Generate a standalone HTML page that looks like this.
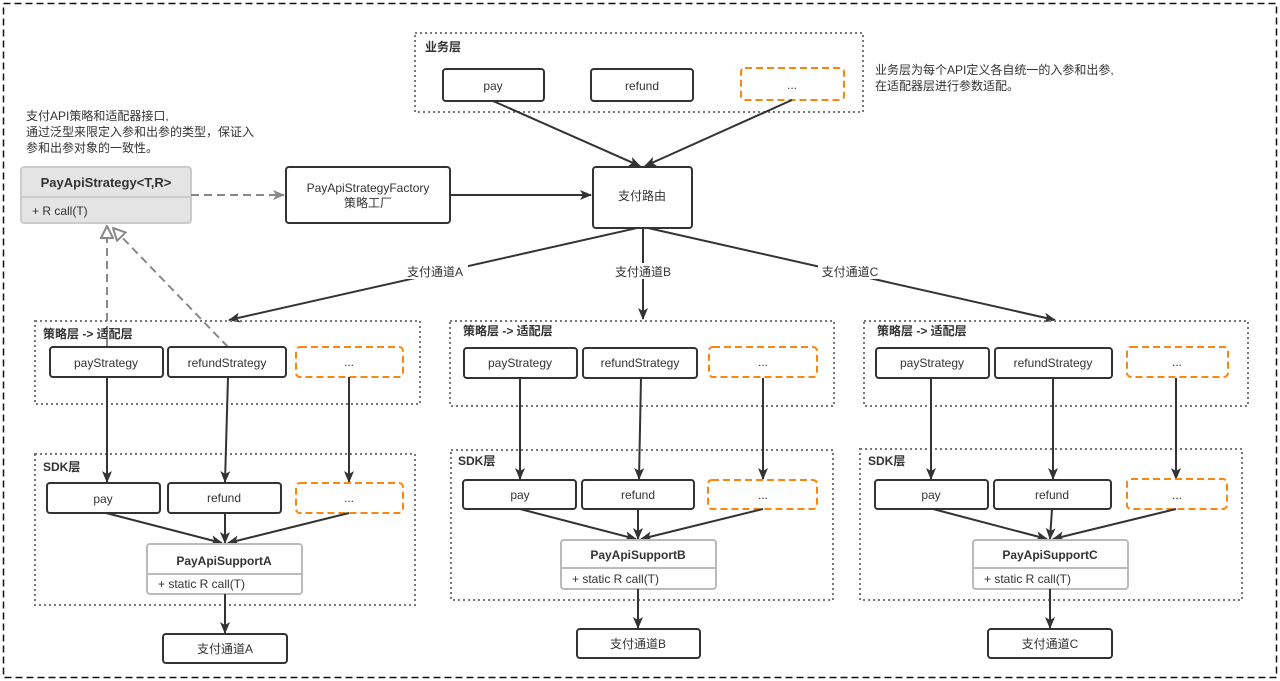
<!DOCTYPE html>
<html><head><meta charset="utf-8"><style>
html,body{margin:0;padding:0;background:#fff;}
svg{display:block;font-family:"Liberation Sans","Noto Sans CJK SC",sans-serif;}
.b{fill:#fff;stroke:#333;stroke-width:2;}
.o{fill:#fff;stroke:#f7870e;stroke-width:2;stroke-dasharray:7,4;}
.g{fill:none;stroke:#777;stroke-width:2;stroke-dasharray:2,3;}
.l{stroke:#333;stroke-width:2;fill:none;}
.t{font-size:12px;fill:#333;text-anchor:middle;}
.h{font-size:12px;fill:#333;font-weight:bold;}
.n{font-size:12px;fill:#333;}
</style></head><body>
<svg width="1280" height="681" viewBox="0 0 1280 681">
<defs>
<marker id="a" markerWidth="12" markerHeight="10" refX="11" refY="5" orient="auto" markerUnits="userSpaceOnUse"><path d="M0,0 L12,5 L0,10 L3,5z" fill="#333"/></marker>
<marker id="ag" markerWidth="12" markerHeight="10" refX="11" refY="5" orient="auto" markerUnits="userSpaceOnUse"><path d="M0,0 L12,5 L0,10 L3,5z" fill="#888"/></marker>
<marker id="tr" markerWidth="14" markerHeight="14" refX="13" refY="7" orient="auto" markerUnits="userSpaceOnUse"><path d="M1,1 L13,7 L1,13z" fill="#fff" stroke="#888" stroke-width="2"/></marker>
</defs>
<rect x="3.5" y="3.5" width="1273" height="674" fill="none" stroke="#111" stroke-width="1.5" stroke-dasharray="7,4"/>

<!-- business layer -->
<rect class="g" x="415" y="33" width="448" height="79"/>
<text class="h" x="425" y="51">业务层</text>
<rect class="b" x="443" y="69" width="101" height="32" rx="3"/><text class="t" x="493" y="90">pay</text>
<rect class="b" x="591" y="69" width="102" height="32" rx="3"/><text class="t" x="642" y="90">refund</text>
<rect class="o" x="741" y="68" width="103" height="32" rx="4"/><text class="t" x="792" y="89">...</text>
<text class="n" x="875" y="74">业务层为每个API定义各自统一的入参和出参,</text>
<text class="n" x="875" y="90">在适配器层进行参数适配。</text>

<text class="n" x="26" y="120">支付API策略和适配器接口,</text>
<text class="n" x="26" y="136">通过泛型来限定入参和出参的类型，保证入</text>
<text class="n" x="26" y="152">参和出参对象的一致性。</text>

<!-- interface -->
<rect x="21" y="167" width="170" height="56" rx="3" fill="#e4e4e4" stroke="#ccc" stroke-width="2"/>
<line x1="21" y1="197" x2="191" y2="197" stroke="#ccc" stroke-width="2"/>
<text class="h" x="106" y="187" text-anchor="middle" style="font-size:13px">PayApiStrategy&lt;T,R&gt;</text>
<text class="n" x="32" y="215">+ R call(T)</text>

<rect class="b" x="286" y="167" width="164" height="56" rx="3"/>
<text class="t" x="368" y="192">PayApiStrategyFactory</text>
<text class="t" x="368" y="207">策略工厂</text>
<rect class="b" x="593" y="167" width="99" height="61" rx="3"/>
<text class="t" x="642" y="200">支付路由</text>

<line x1="191" y1="195" x2="284" y2="195" stroke="#888" stroke-width="2" stroke-dasharray="8,5" marker-end="url(#ag)"/>
<line class="l" x1="450" y1="195" x2="591" y2="195" marker-end="url(#a)"/>
<line class="l" x1="493" y1="101" x2="640" y2="166" marker-end="url(#a)"/>
<line class="l" x1="792" y1="100" x2="645" y2="166" marker-end="url(#a)"/>

<line class="l" x1="637" y1="228" x2="229" y2="320" marker-end="url(#a)"/>
<line class="l" x1="643" y1="228" x2="643" y2="319" marker-end="url(#a)"/>
<line class="l" x1="648" y1="228" x2="1055" y2="320" marker-end="url(#a)"/>
<rect x="403" y="263" width="65" height="16" fill="#fff"/><text class="t" x="435" y="276">支付通道A</text>
<rect x="611" y="263" width="65" height="16" fill="#fff"/><text class="t" x="643" y="276">支付通道B</text>
<rect x="818" y="263" width="65" height="16" fill="#fff"/><text class="t" x="850" y="276">支付通道C</text>

<!-- generalization -->
<line x1="107" y1="347" x2="107" y2="226" stroke="#888" stroke-width="2" stroke-dasharray="8,5" marker-end="url(#tr)"/>
<line x1="228" y1="347" x2="113" y2="228" stroke="#888" stroke-width="2" stroke-dasharray="8,5" marker-end="url(#tr)"/>

<!-- Column A -->
<rect class="g" x="35" y="321" width="385" height="83"/>
<text class="h" x="43" y="338">策略层 -&gt; 适配层</text>
<rect class="b" x="50" y="347" width="113" height="30" rx="3"/><text class="t" x="106" y="367">payStrategy</text>
<rect class="b" x="168" y="347" width="118" height="30" rx="3"/><text class="t" x="227" y="367">refundStrategy</text>
<rect class="o" x="296" y="347" width="107" height="30" rx="4"/><text class="t" x="349" y="366">...</text>
<rect class="g" x="35" y="454" width="380" height="151"/>
<text class="h" x="43" y="471">SDK层</text>
<line class="l" x1="107" y1="377" x2="107" y2="482" marker-end="url(#a)"/>
<line class="l" x1="228" y1="377" x2="225" y2="482" marker-end="url(#a)"/>
<line class="l" x1="349" y1="377" x2="349" y2="482" marker-end="url(#a)"/>
<rect class="b" x="47" y="483" width="113" height="30" rx="3"/><text class="t" x="103" y="503">pay</text>
<rect class="b" x="168" y="483" width="113" height="30" rx="3"/><text class="t" x="224" y="502">refund</text>
<rect class="o" x="296" y="483" width="107" height="30" rx="4"/><text class="t" x="349" y="502">...</text>
<line class="l" x1="106" y1="513" x2="222" y2="543" marker-end="url(#a)"/>
<line class="l" x1="225" y1="513" x2="225" y2="543" marker-end="url(#a)"/>
<line class="l" x1="349" y1="513" x2="228" y2="543" marker-end="url(#a)"/>
<rect x="147" y="544" width="155" height="50" rx="3" fill="#fff" stroke="#bbb" stroke-width="2"/>
<line x1="147" y1="574" x2="302" y2="574" stroke="#bbb" stroke-width="2"/>
<text class="h" x="224" y="565" text-anchor="middle">PayApiSupportA</text>
<text class="n" x="158" y="588">+ static R call(T)</text>
<line class="l" x1="225" y1="594" x2="225" y2="633" marker-end="url(#a)"/>
<rect class="b" x="163" y="634" width="124" height="29" rx="3"/><text class="t" x="225" y="653">支付通道A</text>

<!-- Column B -->
<rect class="g" x="450" y="321" width="384" height="85"/>
<text class="h" x="463" y="335">策略层 -&gt; 适配层</text>
<rect class="b" x="464" y="348" width="113" height="30" rx="3"/><text class="t" x="520" y="367">payStrategy</text>
<rect class="b" x="583" y="348" width="114" height="30" rx="3"/><text class="t" x="640" y="367">refundStrategy</text>
<rect class="o" x="709" y="347" width="108" height="30" rx="4"/><text class="t" x="763" y="366">...</text>
<rect class="g" x="451" y="450" width="382" height="150"/>
<text class="h" x="458" y="465">SDK层</text>
<line class="l" x1="520" y1="378" x2="520" y2="479" marker-end="url(#a)"/>
<line class="l" x1="641" y1="378" x2="639" y2="479" marker-end="url(#a)"/>
<line class="l" x1="763" y1="378" x2="763" y2="479" marker-end="url(#a)"/>
<rect class="b" x="463" y="480" width="113" height="29" rx="3"/><text class="t" x="520" y="499">pay</text>
<rect class="b" x="582" y="480" width="112" height="29" rx="3"/><text class="t" x="638" y="499">refund</text>
<rect class="o" x="708" y="480" width="109" height="29" rx="4"/><text class="t" x="763" y="499">...</text>
<line class="l" x1="520" y1="509" x2="636" y2="539" marker-end="url(#a)"/>
<line class="l" x1="638" y1="509" x2="638" y2="539" marker-end="url(#a)"/>
<line class="l" x1="763" y1="509" x2="641" y2="539" marker-end="url(#a)"/>
<rect x="561" y="540" width="155" height="49" rx="3" fill="#fff" stroke="#bbb" stroke-width="2"/>
<line x1="561" y1="568" x2="716" y2="568" stroke="#bbb" stroke-width="2"/>
<text class="h" x="638" y="559" text-anchor="middle">PayApiSupportB</text>
<text class="n" x="572" y="583">+ static R call(T)</text>
<line class="l" x1="638" y1="589" x2="638" y2="628" marker-end="url(#a)"/>
<rect class="b" x="577" y="629" width="123" height="29" rx="3"/><text class="t" x="638" y="648">支付通道B</text>

<!-- Column C -->
<rect class="g" x="864" y="321" width="384" height="85"/>
<text class="h" x="877" y="335">策略层 -&gt; 适配层</text>
<rect class="b" x="876" y="348" width="113" height="30" rx="3"/><text class="t" x="932" y="367">payStrategy</text>
<rect class="b" x="995" y="348" width="117" height="30" rx="3"/><text class="t" x="1053" y="367">refundStrategy</text>
<rect class="o" x="1127" y="347" width="101" height="30" rx="4"/><text class="t" x="1177" y="366">...</text>
<rect class="g" x="860" y="449" width="382" height="151"/>
<text class="h" x="868" y="465">SDK层</text>
<line class="l" x1="931" y1="378" x2="931" y2="479" marker-end="url(#a)"/>
<line class="l" x1="1053" y1="378" x2="1053" y2="479" marker-end="url(#a)"/>
<line class="l" x1="1176" y1="378" x2="1176" y2="479" marker-end="url(#a)"/>
<rect class="b" x="875" y="480" width="113" height="29" rx="3"/><text class="t" x="931" y="499">pay</text>
<rect class="b" x="994" y="480" width="117" height="29" rx="3"/><text class="t" x="1052" y="499">refund</text>
<rect class="o" x="1127" y="479" width="100" height="30" rx="4"/><text class="t" x="1177" y="499">...</text>
<line class="l" x1="933" y1="509" x2="1047" y2="539" marker-end="url(#a)"/>
<line class="l" x1="1052" y1="509" x2="1050" y2="539" marker-end="url(#a)"/>
<line class="l" x1="1176" y1="509" x2="1053" y2="539" marker-end="url(#a)"/>
<rect x="973" y="540" width="155" height="49" rx="3" fill="#fff" stroke="#bbb" stroke-width="2"/>
<line x1="973" y1="568" x2="1128" y2="568" stroke="#bbb" stroke-width="2"/>
<text class="h" x="1050" y="559" text-anchor="middle">PayApiSupportC</text>
<text class="n" x="984" y="583">+ static R call(T)</text>
<line class="l" x1="1050" y1="589" x2="1050" y2="628" marker-end="url(#a)"/>
<rect class="b" x="988" y="629" width="124" height="29" rx="3"/><text class="t" x="1050" y="648">支付通道C</text>
</svg>
</body></html>
